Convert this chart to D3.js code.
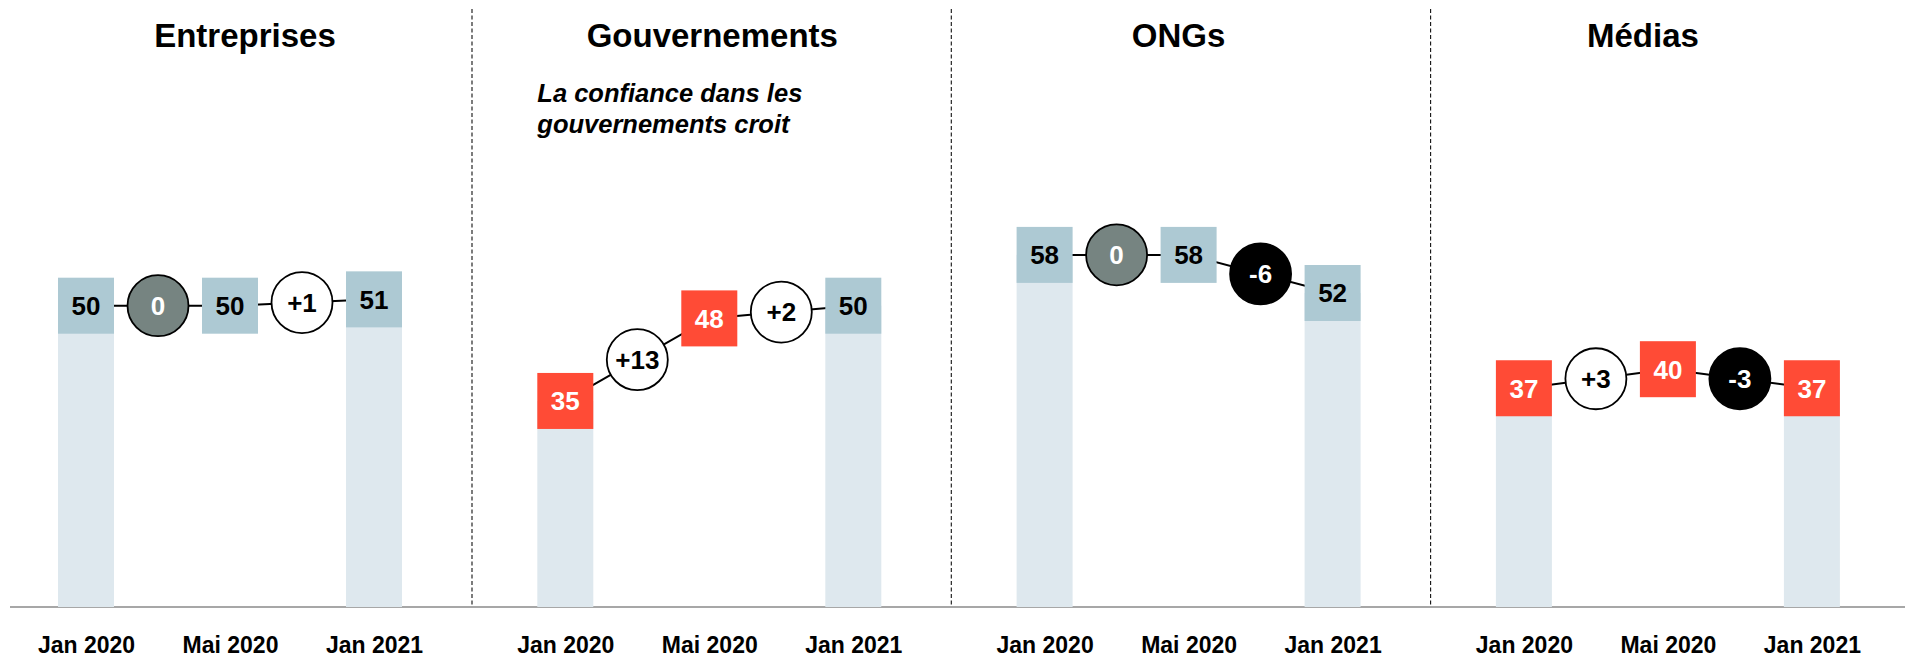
<!DOCTYPE html>
<html>
<head>
<meta charset="utf-8">
<script src="https://cdn.jsdelivr.net/npm/d3@7"></script>
<style>
  body { margin: 0; background: #fff; }
  svg { display: block; font-family: "Liberation Sans", Arial, Helvetica, sans-serif; }
</style>
</head>
<body>
<div id="container"></div>
<script>
/* DATA */
const panels = ["Entreprises", "Gouvernements", "ONGs", "Médias"]
const periods = ["Jan 2020", "Mai 2020", "Jan 2021"]
const barPeriods = ["Jan 2020", "Jan 2021"]
// trust index per panel, one value per period
const trustValues = [
  [50, 50, 51],
  [35, 48, 50],
  [58, 58, 52],
  [37, 40, 37]
]
// change labels between periods
const changes = [
  [0, 1],
  [13, 2],
  [0, -6],
  [3, -3]
]
const notes = [null, ["La confiance dans les", "gouvernements croit"], null, null]

/* CONSTANTS AND GLOBALS */
const width = 1916,
  height = 658,
  axisY = 607,
  boxSize = 56,
  radius = 30.5,
  panelStep = 479.3,
  firstX = 86,
  innerWidth = 288,
  titleDx = [159, 147, 134, 119]

const colors = {
  bar: "#dee8ee",
  box: "#adc9d3",
  red: "#ff4b36",
  zero: "#768481"
}

const svg = d3.select("#container")
  .append("svg")
  .attr("width", width)
  .attr("height", height)

const yScale = d3.scaleLinear()
  .domain([0, 100])
  .range([623.2, 623.2 - 635])

const panelScale = d3.scalePoint()
  .domain(panels)
  .range([firstX, firstX + panelStep * (panels.length - 1)])

// baseline
svg.append("line")
  .attr("x1", 10).attr("x2", 1905)
  .attr("y1", axisY).attr("y2", axisY)
  .attr("stroke", "#8a8a8a")
  .attr("stroke-width", 1.3)

// dashed dividers
svg.selectAll("line.divider")
  .data(panels.slice(0, -1))
  .join("line")
  .attr("class", "divider")
  .attr("x1", d => panelScale(d) + 386)
  .attr("x2", d => panelScale(d) + 386)
  .attr("y1", 9)
  .attr("y2", axisY)
  .attr("stroke", "#111")
  .attr("stroke-width", 1.1)
  .attr("stroke-dasharray", "4,2.5")

const line = d3.line()
  .x(d => d.x)
  .y(d => d.y)

panels.forEach((panel, i) => {
  const g = svg.append("g")
    .attr("transform", `translate(${panelScale(panel)},0)`)

  const xScale = d3.scalePoint()
    .domain(periods)
    .range([0, innerWidth])

  const pts = periods.map((p, j) => ({ period: p, value: trustValues[i][j], x: xScale(p), y: yScale(trustValues[i][j]) }))
  const mids = changes[i].map((c, j) => ({
    change: c,
    x: (pts[j].x + pts[j + 1].x) / 2,
    y: (pts[j].y + pts[j + 1].y) / 2
  }))

  // title
  g.append("text")
    .attr("x", titleDx[i])
    .attr("y", 47)
    .attr("text-anchor", "middle")
    .attr("font-size", 33)
    .attr("font-weight", "bold")
    .text(panel)

  // note
  if (notes[i]) {
    g.append("text")
      .attr("x", -boxSize / 2)
      .attr("y", 102)
      .attr("font-size", 25.5)
      .attr("font-weight", "bold")
      .attr("font-style", "italic")
      .selectAll("tspan")
      .data(notes[i])
      .join("tspan")
      .attr("x", -boxSize / 2)
      .attr("dy", (d, k) => k === 0 ? 0 : 31)
      .text(d => d)
  }

  // light bars
  g.selectAll("rect.bar")
    .data(pts.filter(d => barPeriods.includes(d.period)))
    .join("rect")
    .attr("class", "bar")
    .attr("x", d => d.x - boxSize / 2)
    .attr("y", d => d.y)
    .attr("width", boxSize)
    .attr("height", d => axisY - d.y)
    .attr("fill", colors.bar)

  // connecting line
  const path = []
  pts.forEach((p, j) => {
    path.push(p)
    if (mids[j]) path.push(mids[j])
  })
  g.append("path")
    .attr("d", line(path))
    .attr("fill", "none")
    .attr("stroke", "#000")
    .attr("stroke-width", 2)

  // value boxes
  g.selectAll("rect.box")
    .data(pts)
    .join("rect")
    .attr("class", "box")
    .attr("x", d => d.x - boxSize / 2)
    .attr("y", d => d.y - boxSize / 2)
    .attr("width", boxSize)
    .attr("height", boxSize)
    .attr("fill", d => d.value < 50 ? colors.red : colors.box)

  g.selectAll("text.val")
    .data(pts)
    .join("text")
    .attr("class", "val")
    .attr("x", d => d.x)
    .attr("y", d => d.y)
    .attr("dy", "0.36em")
    .attr("text-anchor", "middle")
    .attr("font-size", 26)
    .attr("font-weight", "bold")
    .attr("fill", d => d.value < 50 ? "#fff" : "#000")
    .text(d => d.value)

  // change circles
  g.selectAll("circle.chg")
    .data(mids)
    .join("circle")
    .attr("class", "chg")
    .attr("cx", d => d.x)
    .attr("cy", d => d.y)
    .attr("r", radius)
    .attr("fill", d => d.change > 0 ? "#fff" : d.change === 0 ? colors.zero : "#000")
    .attr("stroke", "#000")
    .attr("stroke-width", 1.8)

  g.selectAll("text.chg")
    .data(mids)
    .join("text")
    .attr("class", "chg")
    .attr("x", d => d.x)
    .attr("y", d => d.y)
    .attr("dy", "0.36em")
    .attr("text-anchor", "middle")
    .attr("font-size", 26)
    .attr("font-weight", "bold")
    .attr("fill", d => d.change > 0 ? "#000" : "#fff")
    .text(d => d.change > 0 ? "+" + d.change : d.change)

  // x axis labels
  const axis = d3.axisBottom(xScale)
    .tickSize(0)
    .tickPadding(30)
  const ax = g.append("g")
    .attr("transform", `translate(0,${axisY})`)
    .call(axis)
  ax.select(".domain").remove()
  ax.selectAll("text")
    .attr("font-size", 23)
    .attr("font-weight", "bold")
    .attr("font-family", "Liberation Sans, Arial, sans-serif")
    .attr("fill", "#000")
})
</script>
</body>
</html>
